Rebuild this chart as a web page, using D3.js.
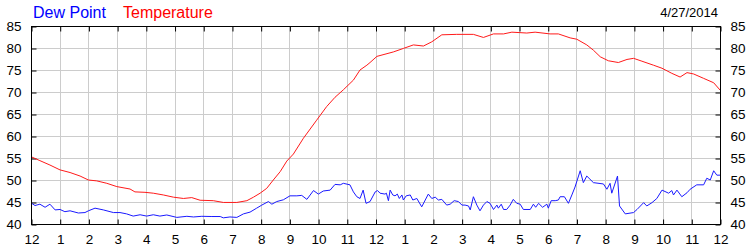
<!DOCTYPE html>
<html>
<head>
<meta charset="utf-8">
<script src="https://cdn.jsdelivr.net/npm/d3@7"></script>
<style>
  html, body { margin: 0; padding: 0; background: #fff; }
  svg { display: block; font-family: "Liberation Sans", Arial, sans-serif; }
</style>
</head>
<body>
<svg id="chart" width="750" height="250"></svg>
<script>
const chartDate = "4/27/2014";
const seriesNames = ["Dew Point", "Temperature"];
const yTicks = [40, 45, 50, 55, 60, 65, 70, 75, 80, 85];
const xTickLabels = ["12","1","2","3","4","5","6","7","8","9","10","11","12","1","2","3","4","5","6","7","8","9","10","11","12"];

const tempHours = [0,0.31,0.66,1.01,1.36,1.71,2.0,2.29,2.64,2.99,3.45,3.62,3.97,4.26,4.61,4.96,5.31,5.6,5.89,6.35,6.7,7.17,7.52,7.75,7.98,8.21,8.44,8.68,8.91,9.14,9.49,9.95,10.3,10.59,10.88,11.23,11.46,11.7,11.81,12.05,12.62,12.97,13.32,13.67,13.96,14.31,14.83,15.41,15.76,16.11,16.46,16.75,17.27,17.56,18.08,18.37,18.78,19.01,19.36,19.59,19.83,20.11,20.46,20.76,20.99,21.28,21.68,21.98,22.32,22.61,22.85,23.08,23.43,23.78,24.0];
const tempValues = [55.3,54.4,53.4,52.3,51.7,50.9,50.0,49.8,49.25,48.5,47.95,47.3,47.2,47.0,46.6,46.1,45.8,46.0,45.4,45.3,44.9,44.9,45.3,46.1,47.0,48.1,50.0,51.9,54.3,55.9,59.5,63.6,66.7,68.8,70.5,72.7,75.0,76.1,76.7,78.1,79.1,79.9,80.7,80.45,81.4,83.0,83.1,83.1,82.4,83.2,83.2,83.6,83.4,83.6,83.2,83.2,82.3,82.0,80.7,79.5,78.0,77.1,76.7,77.4,77.65,77.0,76.1,75.4,74.25,73.4,74.4,74.1,73.1,72.1,70.45];

const dewHours = [0,0.14,0.31,0.49,0.66,0.84,1.01,1.18,1.36,1.65,1.88,2.0,2.23,2.52,2.87,3.1,3.33,3.56,3.8,4.03,4.26,4.49,4.73,5.08,5.43,5.66,5.95,6.3,6.59,6.7,6.93,7.17,7.4,7.63,7.86,8.04,8.27,8.39,8.56,8.79,9.02,9.26,9.43,9.61,9.84,10.01,10.18,10.42,10.59,10.77,10.88,11.11,11.23,11.35,11.46,11.57,11.67,11.81,
  11.99,12.07,12.16,12.33,12.38,12.45,12.51,12.6,12.68,12.76,12.83,12.92,12.97,13.07,13.21,13.3,13.44,13.61,13.84,13.96,14.08,14.19,14.31,14.48,14.6,14.74,14.89,15.01,15.12,15.24,15.3,15.41,15.53,15.64,15.76,15.88,15.99,16.11,16.23,16.28,16.38,16.46,16.57,16.69,16.8,16.92,17.04,17.15,17.39,17.5,17.58,17.68,17.82,17.97,18.02,18.12,18.26,18.37,18.43,18.58,18.72,18.84,
  18.95,19.13,19.24,19.36,19.59,19.94,20.06,20.17,20.23,20.43,20.5,20.7,20.99,21.11,21.34,21.45,21.63,21.8,21.98,22.21,22.32,22.38,22.5,22.67,22.85,22.96,23.19,23.43,23.54,23.66,23.78,23.89,24.0];
const dewValues = [44.8,44.2,44.5,43.8,44.5,43.2,43.3,42.8,43.0,42.5,42.6,43.0,43.6,43.2,42.6,42.6,42.3,41.8,42.1,41.8,42.1,41.8,42.05,41.5,41.75,41.6,41.75,41.7,41.7,41.4,41.6,41.5,42.3,42.7,43.6,44.3,45.1,44.5,45.1,45.5,46.4,46.4,46.5,45.6,47.6,46.8,47.5,47.7,49.0,48.9,49.25,48.9,47.3,46.2,45.8,47.7,44.7,45.1,
  47.3,47.6,47.0,46.8,47.0,45.3,47.7,46.6,46.4,46.8,45.8,46.6,45.45,46.4,46.6,45.45,45.8,43.9,46.8,45.8,46.1,45.45,45.6,44.3,44.5,45.3,45.1,44.3,44.3,44.1,43.2,46.2,44.3,43.0,44.3,45.1,44.7,43.3,44.3,43.6,44.5,43.3,43.3,44.3,45.6,44.7,44.5,43.3,43.3,44.5,43.8,44.7,43.8,44.5,43.6,45.3,45.3,45.45,46.2,46.2,44.7,46.6,
  48.4,52.1,49.4,50.9,49.4,49.1,47.9,49.25,47.0,50.9,44.1,42.3,42.6,43.3,44.85,44.1,44.85,45.8,47.7,47.0,47.6,46.6,47.7,46.2,47.1,47.9,48.9,48.9,50.4,50.0,52.1,51.1,51.1];

(function () {
const svg = d3.select("#chart");
const pLeft = 31, pRight = 720, pTop = 26, pBottom = 224;
const x = d3.scaleLinear().domain([0, 24]).range([pLeft, pRight]);
const y = d3.scaleLinear().domain([40, 85]).range([pBottom, pTop]);
const hourTicks = d3.range(0, 25);
const crisp = v => Math.round(v) + 0.5;

// grid
const grid = svg.append("g").attr("stroke", "#cccccc").attr("stroke-width", 1);
grid.selectAll("line.v").data(hourTicks.slice(1, -1)).enter().append("line")
  .attr("x1", d => crisp(x(d))).attr("x2", d => crisp(x(d)))
  .attr("y1", pTop).attr("y2", pBottom);
grid.selectAll("line.h").data(yTicks.slice(1, -1)).enter().append("line")
  .attr("x1", pLeft).attr("x2", pRight)
  .attr("y1", d => crisp(y(d))).attr("y2", d => crisp(y(d)));

// axes (inward ticks)
const fontSize = 13.5;
const bottomAxis = d3.axisBottom(x).tickValues(hourTicks).tickSize(-5).tickPadding(10)
  .tickFormat((d, i) => xTickLabels[i]);
const topAxis = d3.axisTop(x).tickValues(hourTicks).tickSize(-5).tickFormat("");
const leftAxis = d3.axisLeft(y).tickValues(yTicks).tickSize(-5).tickPadding(10).tickFormat(d3.format("d"));
const rightAxis = d3.axisRight(y).tickValues(yTicks).tickSize(-5).tickPadding(10).tickFormat(d3.format("d"));

function styleAxis(g) {
  g.select(".domain").remove();
  g.selectAll("line").attr("stroke", "#000");
  g.selectAll("text").attr("fill", "#000").style("font-size", fontSize + "px")
    .style("font-family", "'Liberation Sans', Arial, sans-serif");
}
svg.append("g").attr("transform", `translate(0.5,${pBottom + 0.5})`).call(bottomAxis).call(styleAxis)
  .selectAll("text").attr("dy", "0.71em");
svg.append("g").attr("transform", `translate(0.5,${pTop + 0.5})`).call(topAxis).call(styleAxis);
svg.append("g").attr("transform", `translate(${pLeft + 0.5},0.5)`).call(leftAxis).call(styleAxis);
svg.append("g").attr("transform", `translate(${pRight + 0.5},0.5)`).call(rightAxis).call(styleAxis);

// series
const line = d3.line().x(d => x(d[0])).y(d => y(d[1]));
const dewData = dewHours.map((h, i) => [h, dewValues[i]]);
const tempData = tempHours.map((h, i) => [h, tempValues[i]]);
svg.append("path").datum(tempData).attr("d", line)
  .attr("fill", "none").attr("stroke", "#ff1a1a").attr("stroke-width", 1);
svg.append("path").datum(dewData).attr("d", line)
  .attr("fill", "none").attr("stroke", "#1a1aff").attr("stroke-width", 1);

// frame
svg.append("rect").attr("x", pLeft + 0.5).attr("y", pTop + 0.5)
  .attr("width", pRight - pLeft).attr("height", pBottom - pTop)
  .attr("fill", "none").attr("stroke", "#000").attr("stroke-width", 1);

// legend
const legendColors = ["#0000ff", "#ff0000"];
const legendX = [33, 123];
svg.selectAll("text.legend").data(seriesNames).enter().append("text")
  .attr("class", "legend")
  .attr("x", (d, i) => legendX[i]).attr("y", 18)
  .attr("fill", (d, i) => legendColors[i])
  .style("font-size", "16px")
  .text(d => d);

svg.append("text").attr("x", 718).attr("y", 17).attr("text-anchor", "end")
  .attr("fill", "#000").style("font-size", "13px").text(chartDate);
})();
</script>
</body>
</html>
